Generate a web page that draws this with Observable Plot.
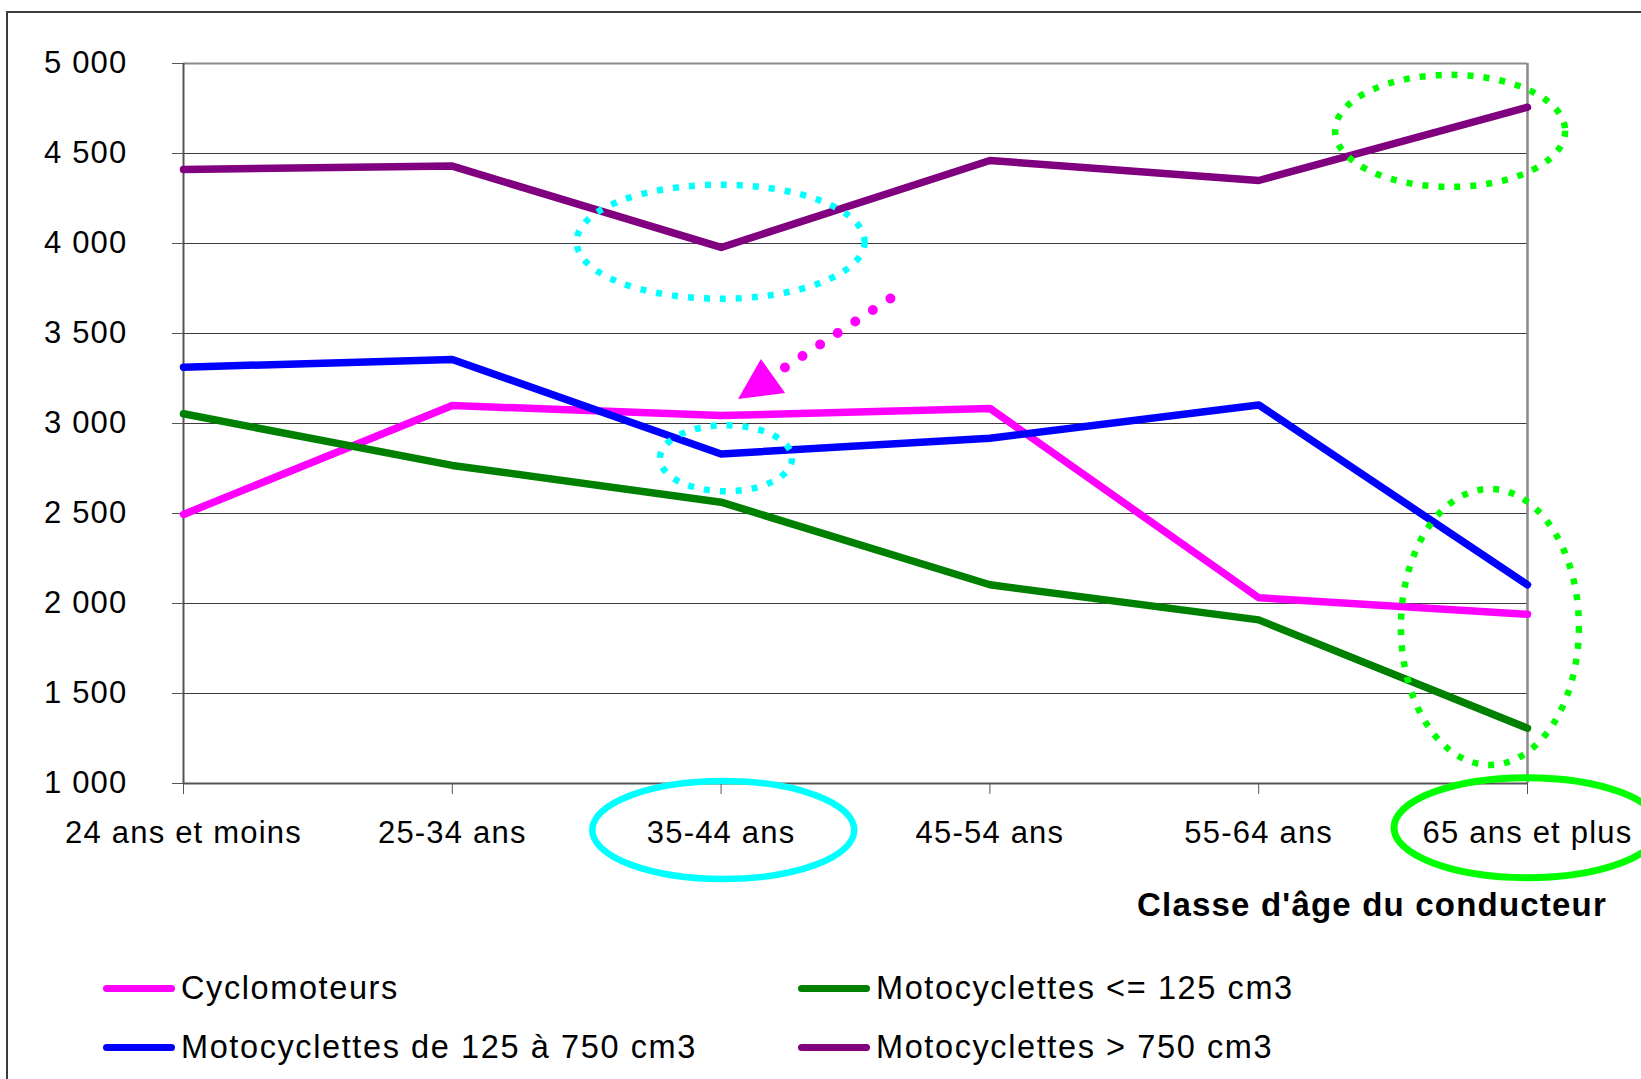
<!DOCTYPE html>
<html><head><meta charset="utf-8">
<script src="https://cdn.jsdelivr.net/npm/d3@7"></script>
<script src="https://cdn.jsdelivr.net/npm/@observablehq/plot@0.6"></script>
<style>
html,body{margin:0;padding:0;background:#fff;}
body{width:1641px;height:1079px;position:relative;overflow:hidden;font-family:"Liberation Sans",Arial,sans-serif;}
#chart{position:absolute;left:0;top:0;}
#frame{position:absolute;left:6px;top:11px;width:1700px;height:1200px;border:2px solid #3c3c3c;pointer-events:none;}
#chart svg text{letter-spacing:1.2px;}
.legend-item{position:absolute;display:flex;align-items:center;height:36px;line-height:36px;font-size:32.5px;letter-spacing:1.6px;color:#000;white-space:nowrap;}
.swatch{width:72px;height:7px;border-radius:4px;margin-right:6px;flex:none;}
</style></head><body>
<div id="chart"></div>
<div id="legend"></div>
<div id="frame"></div>
<script>
// ---- data ----
const categories = ["24 ans et moins", "25-34 ans", "35-44 ans", "45-54 ans", "55-64 ans", "65 ans et plus"];
const seriesNames = ["Cyclomoteurs", "Motocyclettes <= 125 cm3", "Motocyclettes de 125 à 750 cm3", "Motocyclettes > 750 cm3"];
const cyclomoteurs = [2495, 3100, 3044, 3084, 2032, 1940];
const moto125 = [3054, 2767, 2563, 2104, 1909, 1307];
const moto125a750 = [3313, 3356, 2831, 2918, 3103, 2104];
const moto750 = [4411, 4430, 3978, 4461, 4350, 4757];
const yTicks = [1000, 1500, 2000, 2500, 3000, 3500, 4000, 4500, 5000];
const axisTitle = "Classe d'âge du conducteur";

// annotations, in data space (category index, value)
const dottedEllipses = [
  {i: 2.0, v: 4007, kind: "cyanBig"},
  {i: 2.02, v: 2804, kind: "cyanSmall"},
  {i: 4.714, v: 4623, kind: "greenTop"},
  {i: 4.862, v: 1867, kind: "greenRight"}
];
const labelEllipses = [
  {i: 2.01, v: 739, kind: "cyanLabel"},
  {i: 5.0, v: 752, kind: "greenLabel"}
];
const arrowShaft = [{i: 2.63, v: 3694}, {i: 2.232, v: 3306}];
const arrowHead = [[2.150, 3356], [2.065, 3133], [2.240, 3167]];

// ---- styles ----
const colors = ["#FF00FF", "#008000", "#0000FF", "#800080"];
const ellipseStyle = {
  cyanBig: {rx: 144, ry: 57, color: "#00FFFF", dash: "6 10", w: 6.5},
  cyanSmall: {rx: 66, ry: 33, color: "#00FFFF", dash: "6 10", w: 6.5},
  greenTop: {rx: 115, ry: 56, color: "#00FF00", dash: "6 10", w: 6.5},
  greenRight: {rx: 89, ry: 138, color: "#00FF00", dash: "6 10", w: 6.5},
  cyanLabel: {rx: 131, ry: 49, color: "#00FFFF", dash: null, w: 6.5},
  greenLabel: {rx: 133, ry: 50, color: "#00FF00", dash: null, w: 7}
};

const seriesValues = [cyclomoteurs, moto125, moto125a750, moto750];
const rows = seriesNames.flatMap((name, s) => seriesValues[s].map((v, i) => ({series: name, i, v})));
const fmt = d => d3.format(",")(d).replace(/,/g, " ");

const chart = Plot.plot({
  width: 1641,
  height: 940,
  marginLeft: 183,
  marginRight: 114,
  marginTop: 63,
  marginBottom: 157,
  style: {fontSize: "31px", fontFamily: "'Liberation Sans', Arial, sans-serif", background: "transparent", color: "#000"},
  x: {type: "linear", domain: [0, categories.length - 1], label: null},
  y: {domain: [1000, 5000], label: null},
  color: {domain: seriesNames, range: colors},
  marks: [
    Plot.ruleY(yTicks.filter(t => t > 1000 && t < 5000), {stroke: "#3c3c3c", strokeWidth: 1.2}),
    Plot.ruleY([5000], {stroke: "#8a8a8a", strokeWidth: 2}),
    Plot.ruleX([categories.length - 1], {stroke: "#8a8a8a", strokeWidth: 2.5}),
    Plot.ruleX([0], {stroke: "#555", strokeWidth: 2}),
    Plot.ruleY([1000], {stroke: "#555", strokeWidth: 2}),
    Plot.axisY({ticks: yTicks, tickFormat: fmt, tickSize: 11, tickPadding: 45, stroke: "#555"}),
    Plot.axisX({ticks: d3.range(categories.length), tickFormat: i => categories[i], tickSize: 11, tickPadding: 26, stroke: "#555"}),
    Plot.line(rows, {x: "i", y: "v", z: "series", stroke: "series", strokeWidth: 7.5}),
    Plot.line(arrowShaft, {x: "i", y: "v", stroke: "#FF00FF", strokeWidth: 10, strokeDasharray: "0 21", strokeLinecap: "round"})
  ]
});

document.getElementById("chart").appendChild(chart);
const x = chart.scale("x"), y = chart.scale("y");
const svg = d3.select(chart);

// arrow head
svg.append("polygon")
  .attr("points", arrowHead.map(([i, v]) => [x.apply(i), y.apply(v)].join(",")).join(" "))
  .attr("fill", "#FF00FF");

// ellipses
for (const e of [...dottedEllipses, ...labelEllipses]) {
  const st = ellipseStyle[e.kind];
  svg.append("ellipse")
    .attr("cx", x.apply(e.i)).attr("cy", y.apply(e.v))
    .attr("rx", st.rx).attr("ry", st.ry)
    .attr("fill", "none").attr("stroke", st.color)
    .attr("stroke-width", st.w)
    .attr("stroke-dasharray", st.dash);
}

// axis title
svg.append("text")
  .attr("x", x.apply(categories.length - 1) + 80)
  .attr("y", y.apply(1000) + 133)
  .attr("text-anchor", "end")
  .attr("font-weight", "bold")
  .attr("font-size", "33px")
  .attr("fill", "#000")
  .text(axisTitle);

// legend
const legend = document.getElementById("legend");
const legendPos = [[103, 970], [798, 970], [103, 1029], [798, 1029]];
seriesNames.forEach((name, s) => {
  const item = document.createElement("div");
  item.className = "legend-item";
  item.style.left = legendPos[s][0] + "px";
  item.style.top = legendPos[s][1] + "px";
  const sw = document.createElement("span");
  sw.className = "swatch";
  sw.style.background = colors[s];
  const t = document.createElement("span");
  t.textContent = name;
  item.appendChild(sw);
  item.appendChild(t);
  legend.appendChild(item);
});
</script></body></html>
